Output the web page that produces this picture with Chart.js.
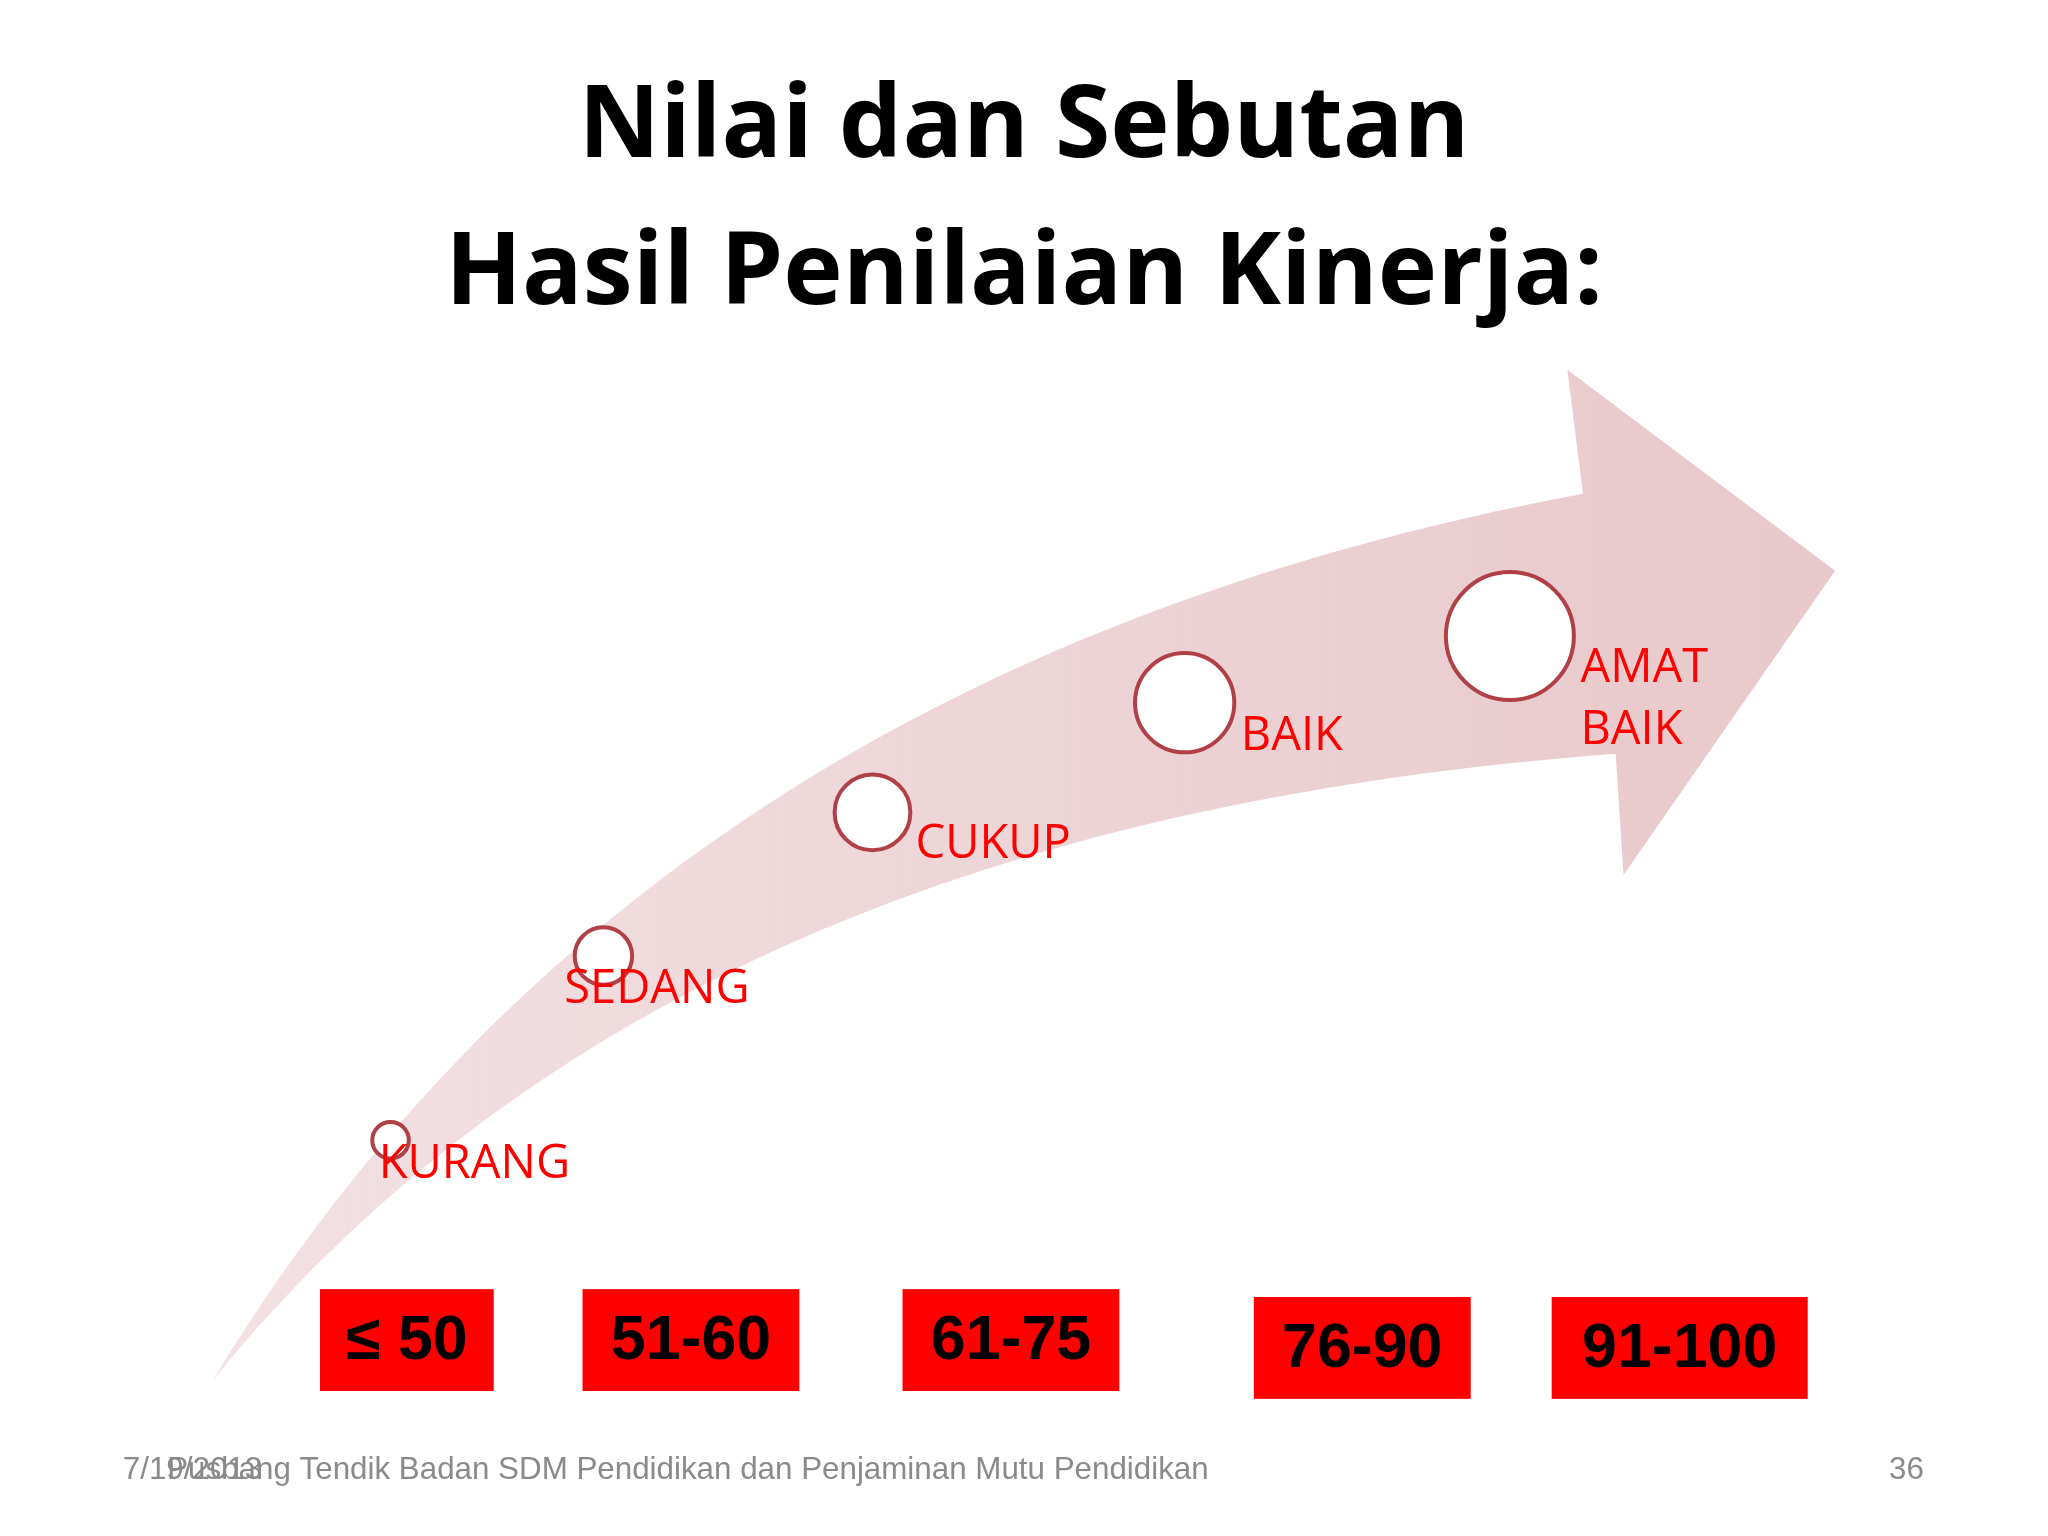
<!DOCTYPE html>
<html><head><meta charset="utf-8">
<script src="https://cdn.jsdelivr.net/npm/chart.js@4"></script>
<style>html,body{margin:0;padding:0;background:#fff}#w{width:2048px;height:1536px}</style>
</head><body><div id="w"><canvas id="c"></canvas></div>
<script>
const categories = ["KURANG","SEDANG","CUKUP","BAIK","AMAT BAIK"];
const rangeLabels = ["≤ 50","51-60","61-75","76-90","91-100"];
const xPos = [299,462,668,907,1156];
const yLevel = [873,732,622,538,487];
const bubbleSize = [14,22,29,38,49];
const titleLines = ["Nilai dan Sebutan","Hasil Penilaian Kinerja:"];
const footer = ["7/19/2013","Pusbang Tendik Badan SDM Pendidikan dan Penjaminan Mutu Pendidikan","36"];
const K = 2048/1568;

const deco = {
  id:'deco',
  beforeDatasetsDraw(ch){
    const c=ch.ctx, xs=ch.scales.x, ys=ch.scales.y;
    const P=(x,y)=>[xs.getPixelForValue(x),ys.getPixelForValue(y)];
    c.save();
    const g=c.createLinearGradient(P(163,0)[0],0,P(1405,0)[0],0);
    g.addColorStop(0,'rgba(232,200,203,0.55)');g.addColorStop(1,'rgba(232,200,203,1)');
    c.fillStyle=g;c.beginPath();
    c.moveTo(...P(163,1057));
    c.bezierCurveTo(...P(380,700),...P(720,470),...P(1212,378));
    c.lineTo(...P(1200,283));c.lineTo(...P(1405,437));c.lineTo(...P(1243,670));c.lineTo(...P(1237,577));
    c.bezierCurveTo(...P(800,610),...P(420,740),...P(163,1057));
    c.fill();
    c.fillStyle='#000';c.textAlign='center';c.textBaseline='alphabetic';
    const targets=[[682,120],[886,233]];
    titleLines.forEach((t,i)=>{
      c.font='bold 100px "Open Sans"';
      const w=c.measureText(t).width, fs=100*targets[i][0]*K/w;
      c.font=`bold ${fs.toFixed(1)}px "Open Sans"`;
      c.fillText(t,P(784,0)[0],P(0,targets[i][1])[1]);
    });
    const boxes=[[245,987,133,78],[446,987,166,78],[691,987,166,78],[960,993,166,78],[1188,993,196,78]];
    rangeLabels.forEach((t,i)=>{
      const b=boxes[i];const [x0,y0]=P(b[0],b[1]);
      c.fillStyle='#ff0000';c.fillRect(x0,y0,b[2]*K,b[3]*K);
      c.fillStyle='#000';c.font=`bold ${48*K}px "Liberation Sans"`;c.textBaseline='middle';
      c.fillText(t,x0+b[2]*K/2,y0+b[3]*K/2+2);
    });
    c.fillStyle='#8a8a8a';c.font=`${24*K}px "Liberation Sans"`;c.textBaseline='alphabetic';
    c.textAlign='left';c.fillText(footer[0],...P(94,1132));c.fillText(footer[1],...P(128,1132));
    c.textAlign='right';c.fillText(footer[2],...P(1473,1132));
    c.restore();
  },
  afterDatasetsDraw(ch){
    const c=ch.ctx, xs=ch.scales.x, ys=ch.scales.y;
    const P=(x,y)=>[xs.getPixelForValue(x),ys.getPixelForValue(y)];
    const lp=[[[290,902]],[[432,768]],[[701,657]],[[950,574]],[[1210,522],[1210,570]]];
    c.save();c.fillStyle='#ff0000';c.font=`${36*K}px "Open Sans"`;c.textAlign='left';c.textBaseline='alphabetic';
    categories.forEach((t,i)=>{
      const parts=lp[i].length>1?t.split(' '):[t];
      parts.forEach((p,j)=>c.fillText(p,...P(lp[i][j][0],lp[i][j][1])));
    });
    c.restore();
  }
};

new Chart(document.getElementById('c'),{
  type:'bubble',
  data:{datasets:[{data:categories.map((n,i)=>({x:xPos[i],y:yLevel[i],r:bubbleSize[i]*K})),
    backgroundColor:'#ffffff',borderColor:'#b04045',borderWidth:4,hoverRadius:0}]},
  options:{responsive:true,maintainAspectRatio:false,animation:false,
    layout:{padding:0,autoPadding:false},
    plugins:{legend:{display:false},tooltip:{enabled:false}},
    scales:{x:{type:'linear',min:0,max:1568,display:false},
            y:{type:'linear',min:0,max:1176,reverse:true,display:false}}},
  plugins:[deco]
});
</script></body></html>
